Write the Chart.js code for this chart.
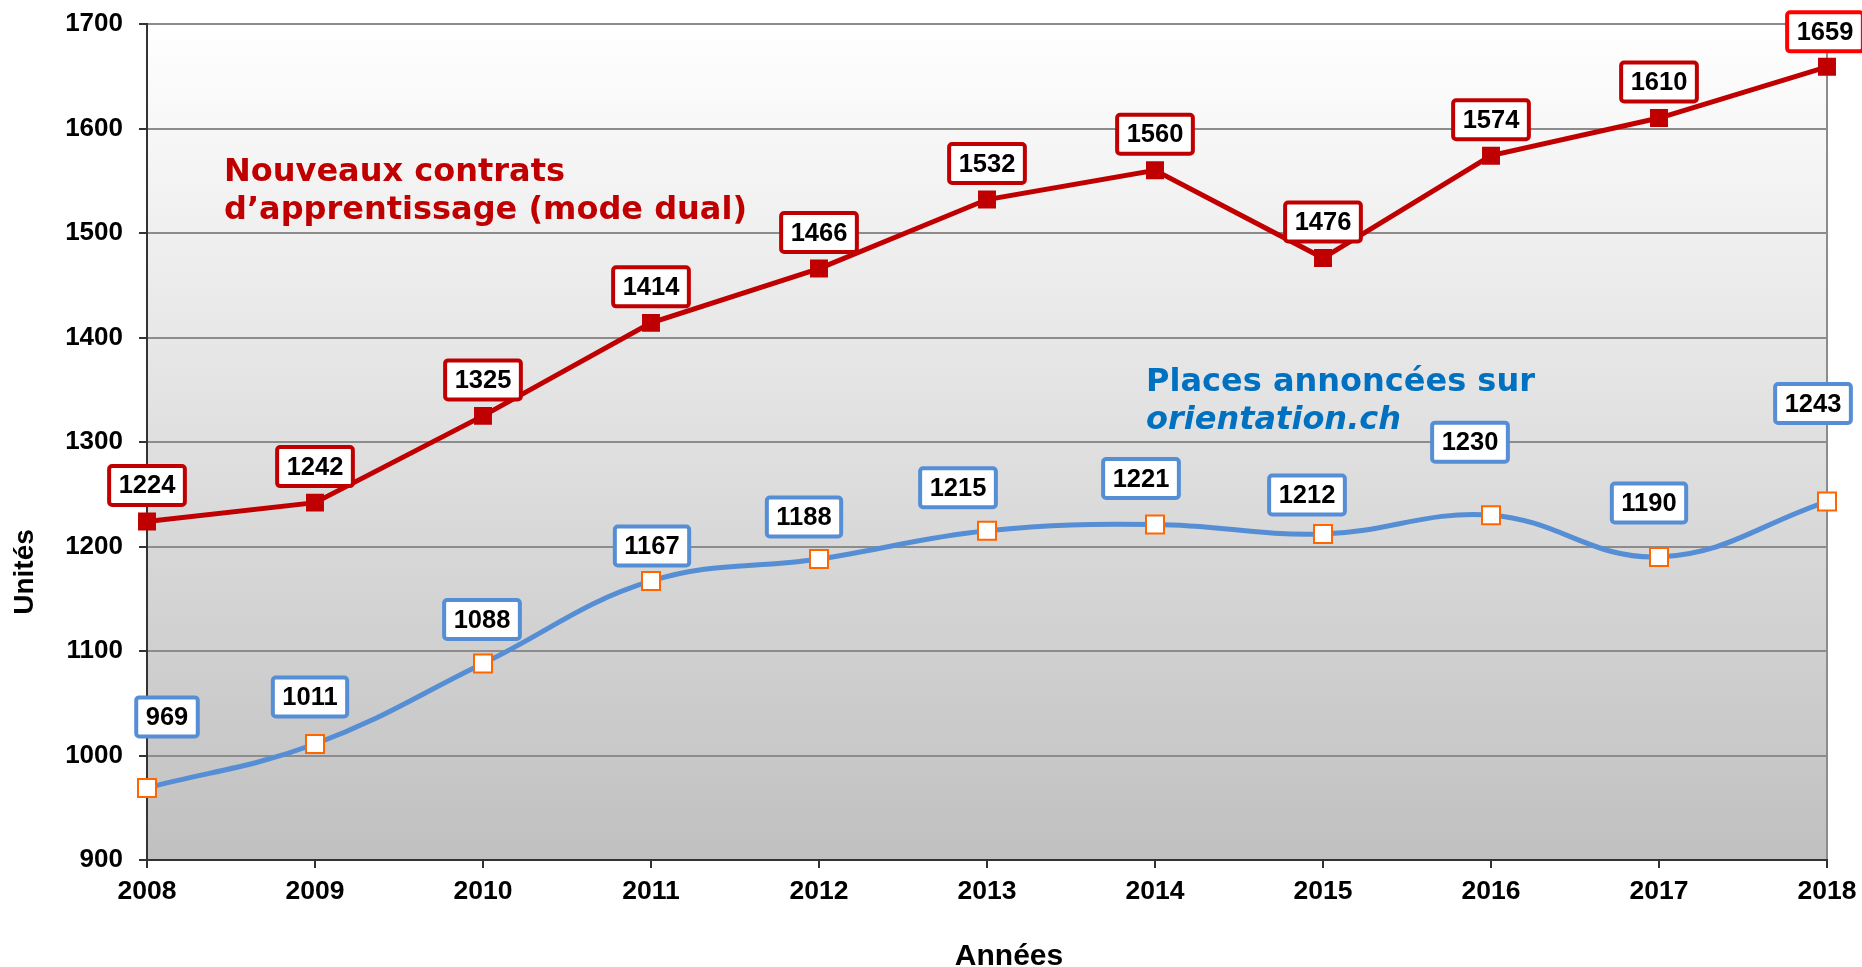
<!DOCTYPE html>
<html><head><meta charset="utf-8">
<script src="https://cdn.jsdelivr.net/npm/chart.js@4.4.1/dist/chart.umd.min.js"></script>
<style>html,body{margin:0;padding:0;background:#fff;overflow:hidden}</style>
</head><body>
<canvas id="c" width="1862" height="967" style="width:1862px;height:967px;display:block"></canvas>
<script>
// ---- data ----
const years = ['2008','2009','2010','2011','2012','2013','2014','2015','2016','2017','2018'];
const contrats = [1224,1242,1325,1414,1466,1532,1560,1476,1574,1610,1659];
const places = [969,1011,1088,1167,1188,1215,1221,1212,1230,1190,1243];
const yMin = 900, yMax = 1700, yStep = 100;
const yTitle = 'Unités';
const xTitle = 'Années';
const contratsText = ['Nouveaux contrats', 'd\u2019apprentissage (mode dual)'];
const placesText = ['Places annoncées sur', 'orientation.ch'];

// ---- styling (label box offsets relative to point) ----
const redOff = [[0,-36],[0,-36],[0,-36],[0,-36],[0,-36],[0,-36],[0,-36],[0,-36],[0,-36],[0,-36],[-2,-35]];
const blueOff = [[20,-71],[-5,-47],[-1,-44],[1,-35],[-15,-42],[-29,-43],[-14,-46],[-16,-39],[-21,-73],[-10,-54],[-14,-98]];
const RED = '#c00000', BLUE = '#558ed5', ORANGE = '#ff6600';
const ARIAL = '"Liberation Sans", Arial, sans-serif';
const VERD = '"DejaVu Sans", Verdana, sans-serif';

const bgPlugin = {
  id: 'bg',
  beforeDraw(chart) {
    const {ctx, chartArea: a} = chart;
    const g = ctx.createLinearGradient(0, a.top, 0, a.bottom);
    g.addColorStop(0, '#ffffff');
    g.addColorStop(1, '#c0c0c0');
    ctx.save(); ctx.fillStyle = g;
    ctx.fillRect(a.left, a.top, a.right - a.left, a.bottom - a.top);
    ctx.restore();
  }
};

function box(ctx, cx, cy, text, color) {
  ctx.font = 'bold 25.5px ' + ARIAL;
  const tw = ctx.measureText(text).width;
  const w = tw + 19, h = 39;
  const x = cx - w/2, y = cy - h/2;
  ctx.beginPath();
  ctx.roundRect(x, y, w, h, 3);
  ctx.fillStyle = '#fff'; ctx.fill();
  ctx.lineWidth = 4; ctx.strokeStyle = color; ctx.stroke();
  ctx.fillStyle = '#000'; ctx.textAlign = 'center'; ctx.textBaseline = 'middle';
  ctx.fillText(text, cx, cy + 1);
}

const labelPlugin = {
  id: 'labels',
  afterDatasetsDraw(chart) {
    const ctx = chart.ctx;
    ctx.save();
    chart.getDatasetMeta(1).data.forEach((p, j) => {
      box(ctx, p.x + blueOff[j][0], p.y + blueOff[j][1], String(places[j]), BLUE);
    });
    chart.getDatasetMeta(0).data.forEach((p, j) => {
      box(ctx, p.x + redOff[j][0], p.y + redOff[j][1], String(contrats[j]), j === contrats.length - 1 ? '#ff0000' : RED);
    });
    // series texts
    ctx.textAlign = 'left'; ctx.textBaseline = 'alphabetic';
    ctx.fillStyle = RED; ctx.font = 'bold 32px ' + VERD;
    ctx.fillText(contratsText[0], 224, 181);
    ctx.fillText(contratsText[1], 224, 219);
    ctx.fillStyle = '#0070c0';
    ctx.fillText(placesText[0], 1146, 391);
    ctx.font = 'italic bold 32px ' + VERD;
    ctx.fillText(placesText[1], 1146, 429);
    // axis titles
    ctx.fillStyle = '#000'; ctx.font = 'bold 30px ' + ARIAL;
    ctx.textAlign = 'center'; ctx.textBaseline = 'alphabetic';
    ctx.fillText(xTitle, 1009, 965);
    ctx.font = 'bold 28px ' + ARIAL;
    ctx.translate(33, 572); ctx.rotate(-Math.PI/2);
    ctx.fillText(yTitle, 0, 0);
    ctx.restore();
  }
};

new Chart(document.getElementById('c'), {
  type: 'line',
  data: {
    labels: years,
    datasets: [
      { data: contrats, borderColor: RED, backgroundColor: RED, borderWidth: 5,
        pointStyle: 'rect', pointRadius: 12.7, pointBorderWidth: 0, pointBackgroundColor: RED,
        tension: 0, order: 1 },
      { data: places, borderColor: BLUE, borderWidth: 5, tension: 0.4,
        pointStyle: 'rect', pointRadius: 12.7, pointBorderWidth: 2, pointBorderColor: ORANGE,
        pointBackgroundColor: '#ffffff', order: 0 }
    ]
  },
  options: {
    responsive: false, animation: false, devicePixelRatio: 1,
    layout: { padding: { top: 24, right: 35, left: 0, bottom: 0 } },
    plugins: { legend: { display: false }, tooltip: { enabled: false } },
    scales: {
      x: {
        offset: false,
        grid: { color: (c) => c.index === years.length - 1 ? '#8c8c8c' : 'rgba(0,0,0,0)', lineWidth: 2,
                tickLength: 8, tickColor: '#333', tickWidth: 2 },
        border: { color: '#333', width: 2 },
        ticks: { color: '#000', font: { family: ARIAL, size: 26.5, weight: 'bold' }, padding: 8, maxRotation: 0 },
        afterFit(s) { s.height = 107; s.paddingLeft = 0; s.paddingRight = 0; }
      },
      y: {
        min: yMin, max: yMax,
        grid: { color: '#8c8c8c', lineWidth: 2, tickLength: 8, tickColor: '#333', tickWidth: 2 },
        border: { color: '#333', width: 2 },
        ticks: { stepSize: yStep, color: '#000', font: { family: ARIAL, size: 26, weight: 'bold' }, padding: 16,
                 callback: (v) => String(v) },
        afterFit(s) { s.width = 147; s.paddingTop = 0; s.paddingBottom = 0; }
      }
    }
  },
  plugins: [bgPlugin, labelPlugin]
});
</script>
</body></html>
